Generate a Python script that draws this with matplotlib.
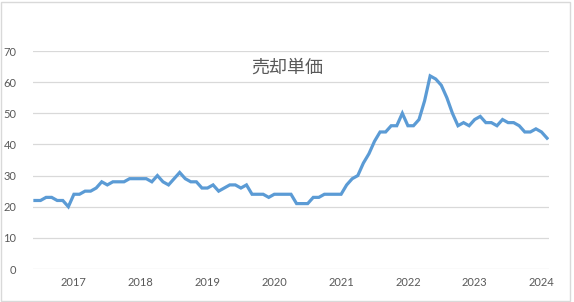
import matplotlib.pyplot as plt
from matplotlib.patches import Rectangle
import numpy as np

# monthly values, Jun 2016 .. Feb 2024
start_year, start_month = 2016, 6
values = [22, 22, 23, 23, 22, 22, 20, 24, 24, 25,
          25, 26, 28, 27, 28, 28, 28, 29, 29, 29,
          29, 28, 30, 28, 27, 29, 31, 29, 28, 28,
          26, 26, 27, 25, 26, 27, 27, 26, 27, 24,
          24, 24, 23, 24, 24, 24, 24, 21, 21, 21,
          23, 23, 24, 24, 24, 24, 27, 29, 30, 34,
          37, 41, 44, 44, 46, 46, 50, 46, 46, 48,
          54, 62, 61, 59, 55, 50, 46, 47, 46, 48,
          49, 47, 47, 46, 48, 47, 47, 46, 44, 44,
          45, 44, 42]
years = [2017, 2018, 2019, 2020, 2021, 2022, 2023, 2024]
title = "売却単価"

plt.rcParams['font.family'] = ['Lato', 'Noto Sans CJK JP', 'DejaVu Sans']

x = np.arange(len(values))
year_pos = [(y - start_year) * 12 + (1 - start_month) for y in years]

fig = plt.figure(figsize=(5.74, 3.02), dpi=100)
ax = fig.add_axes([33/574, 1 - 269/302, (549 - 33)/574, (269 - 51)/302])

ax.plot(x, values, color='#5B9BD5', lw=2.3, solid_joinstyle='miter')

ax.set_ylim(0, 70)
ax.set_yticks(range(0, 71, 10))
ax.set_xlim(-0.35, len(values) - 1 + 0.35)
ax.set_xticks(year_pos)
ax.set_xticklabels([str(y) for y in years])
ax.yaxis.grid(True, color='#D9D9D9', lw=0.9)
ax.set_axisbelow(True)
for s in ax.spines.values():
    s.set_visible(False)
ax.tick_params(length=0, labelsize=8, colors='#595959', pad=6)
ax.tick_params(axis='y', pad=12)

fig.text(287/574, 1 - 68/302, title, ha='center', va='center',
         fontsize=13, color='#595959', family=['Noto Sans CJK JP', 'DejaVu Sans'])

# chart border
fig.patches.append(Rectangle((1/574, 1/302), 569/574, 299/302, transform=fig.transFigure,
                             fill=False, edgecolor='#D9D9D9', lw=1))

fig.savefig('out.png', dpi=100)
